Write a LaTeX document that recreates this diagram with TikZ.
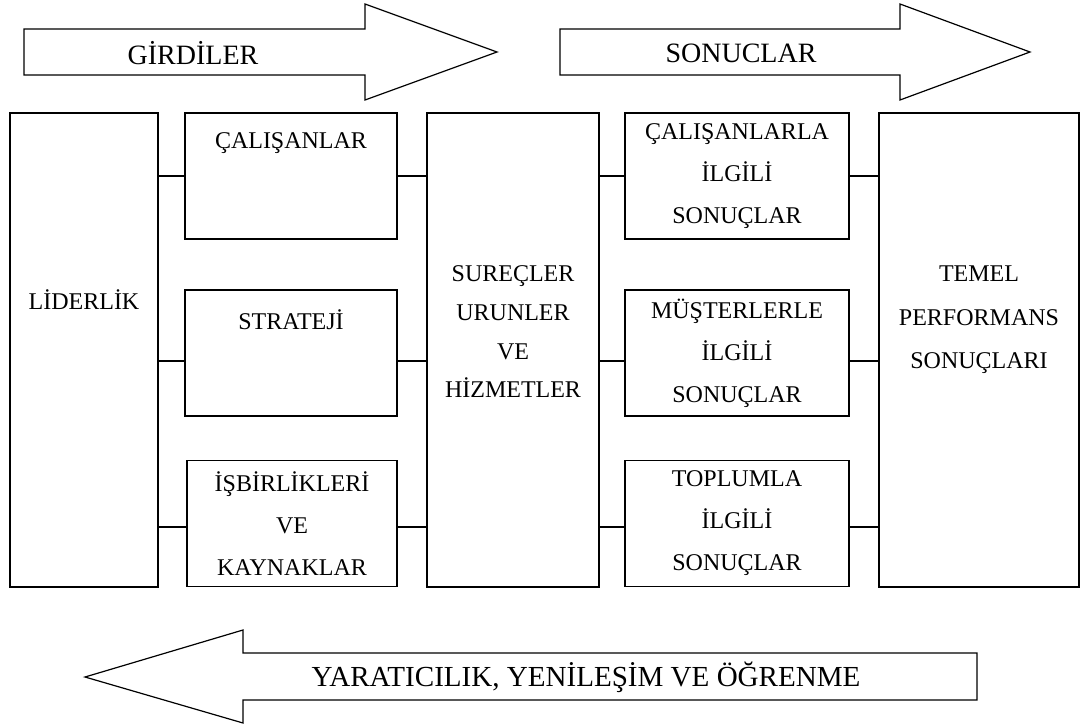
\documentclass[tikz,border=0pt]{standalone}
\usepackage{fontspec}
\setmainfont{Liberation Serif}

\begin{document}
\begin{tikzpicture}[x=0.75pt,y=-0.75pt,
  every node/.style={outer sep=0pt, inner sep=0pt, align=center, font=\fontsize{18}{31.5}\selectfont},
  kutu/.style={draw, line width=0.9pt},
  hat/.style={line width=0.9pt},
  ok/.style={draw, line width=0.9pt, line join=miter, fill=white},
  oktext/.style={font=\fontsize{21}{25}\selectfont}]
\useasboundingbox (0,0) rectangle (1082,728);

% ust oklar
\draw[ok] (24,29) -- (365,29) -- (365,4) -- (497,52) -- (365,100) -- (365,75) -- (24,75) -- cycle;
\node[oktext] (girdi) at (193,53) {GİRDİLER};
\draw[ok] (560,29) -- (900,29) -- (900,4) -- (1030,52) -- (900,100) -- (900,75) -- (560,75) -- cycle;
\node[oktext] (sonuc) at (741,53) {SONUCLAR};

% kutular
\node[kutu, minimum width=111pt, minimum height=355.5pt,
  label={[anchor=base, yshift=37.5pt]center:LİDERLİK}] (lider) at (84,350) {};

\node[kutu, minimum width=159pt, minimum height=94.5pt,
  label={[anchor=base, yshift=24.75pt]center:ÇALIŞANLAR}] (calisan) at (291,176) {};
\node[kutu, minimum width=159pt, minimum height=94.5pt,
  label={[anchor=base, yshift=24.75pt]center:STRATEJİ}] (strateji) at (291,353) {};
\node[kutu, minimum width=157.5pt, minimum height=95pt] (isbir) at (292,523.5) {İŞBİRLİKLERİ\\VE\\KAYNAKLAR};

\node[kutu, minimum width=129pt, minimum height=355.5pt,
  label={[yshift=13.5pt, font=\fontsize{18}{29}\selectfont]center:SUREÇLER\\URUNLER\\VE\\HİZMETLER}] (surec) at (513,350) {};

\node[kutu, minimum width=168pt, minimum height=94.5pt] (rcalisan) at (737,176) {ÇALIŞANLARLA\\İLGİLİ\\SONUÇLAR};
\node[kutu, minimum width=168pt, minimum height=94.5pt] (musteri) at (737,353) {MÜŞTERLERLE\\İLGİLİ\\SONUÇLAR};
\node[kutu, minimum width=168pt, minimum height=95pt] (toplum) at (737,523.5) {TOPLUMLA\\İLGİLİ\\SONUÇLAR};

\node[kutu, minimum width=150pt, minimum height=355.5pt,
  label={[yshift=22.5pt, font=\fontsize{18}{32.5}\selectfont]center:TEMEL\\PERFORMANS\\SONUÇLARI}] (temel) at (979,350) {};

% baglantilar
\draw[hat] (lider.east |- calisan.west) -- (calisan.west);
\draw[hat] ([yshift=-6pt]lider.east |- strateji.west) -- ([yshift=-6pt]strateji.west);
\draw[hat] ([yshift=-2.6pt]lider.east |- isbir.west) -- ([yshift=-2.6pt]isbir.west);
\draw[hat] (calisan.east) -- (surec.west |- calisan.east);
\draw[hat] ([yshift=-6pt]strateji.east) -- ([yshift=-6pt]surec.west |- strateji.east);
\draw[hat] ([yshift=-2.6pt]isbir.east) -- ([yshift=-2.6pt]surec.west |- isbir.east);
\draw[hat] (surec.east |- rcalisan.west) -- (rcalisan.west);
\draw[hat] ([yshift=-6pt]surec.east |- musteri.west) -- ([yshift=-6pt]musteri.west);
\draw[hat] ([yshift=-2.6pt]surec.east |- toplum.west) -- ([yshift=-2.6pt]toplum.west);
\draw[hat] (rcalisan.east) -- (temel.west |- rcalisan.east);
\draw[hat] ([yshift=-6pt]musteri.east) -- ([yshift=-6pt]temel.west |- musteri.east);
\draw[hat] ([yshift=-2.6pt]toplum.east) -- ([yshift=-2.6pt]temel.west |- toplum.east);

% alt ok
\draw[ok] (977,653) -- (243,653) -- (243,630) -- (85,677) -- (243,723) -- (243,700) -- (977,700) -- cycle;
\node[oktext, font=\fontsize{21.8}{25}\selectfont] (ogrenme) at (586,677) {YARATICILIK, YENİLEŞİM VE ÖĞRENME};
\end{tikzpicture}
\end{document}
